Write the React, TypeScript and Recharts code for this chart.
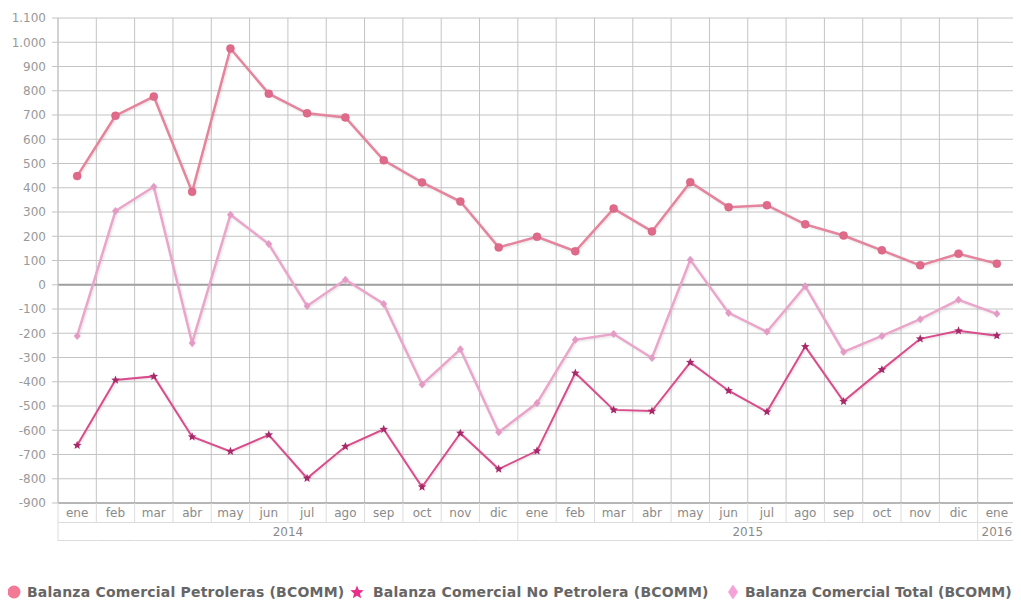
import { LineChart, Line, XAxis, YAxis, CartesianGrid, ReferenceLine } from 'recharts';

const months = ['ene', 'feb', 'mar', 'abr', 'may', 'jun', 'jul', 'ago', 'sep', 'oct', 'nov', 'dic', 'ene', 'feb', 'mar', 'abr', 'may', 'jun', 'jul', 'ago', 'sep', 'oct', 'nov', 'dic', 'ene'];
const years = ['2014', '2014', '2014', '2014', '2014', '2014', '2014', '2014', '2014', '2014', '2014', '2014', '2015', '2015', '2015', '2015', '2015', '2015', '2015', '2015', '2015', '2015', '2015', '2015', '2016'];
const petroleras = [448, 697, 776, 383, 974, 788, 707, 690, 513, 422, 343, 154, 198, 138, 314, 220, 423, 320, 328, 249, 203, 142, 80, 128, 87];
const noPetrolera = [-662, -393, -378, -627, -687, -619, -798, -667, -596, -834, -612, -760, -685, -364, -516, -521, -320, -437, -524, -255, -481, -350, -223, -190, -210];
const total = [-211, 304, 404, -240, 289, 168, -88, 21, -79, -411, -266, -608, -488, -227, -203, -302, 103, -116, -194, -6, -277, -211, -142, -62, -120];
const yTicks = [-900, -800, -700, -600, -500, -400, -300, -200, -100, 0, 100, 200, 300, 400, 500, 600, 700, 800, 900, 1000, 1100];

const seriesNames = ['Balanza Comercial Petroleras (BCOMM)', 'Balanza Comercial No Petrolera (BCOMM)', 'Balanza Comercial Total (BCOMM)'];

const rows = months.map((m, i) => ({
  key: `${years[i]}-${i}`,
  month: m,
  year: years[i],
  petroleras: petroleras[i],
  noPetrolera: noPetrolera[i],
  total: total[i],
}));

// chart is shifted left over the body margin so its coords match the page
const W = 1021;
const H = 600;
const MARGIN = { top: 18, right: 5, left: 8, bottom: 59 };
const Y_W = 50;
const STEP = (W - MARGIN.left - MARGIN.right - Y_W) / months.length;
const FONT = '"DejaVu Sans", Verdana, sans-serif';

const fmt = (v: number) => {
  const s = Math.abs(v).toString().replace(/\B(?=(\d{3})+(?!\d))/g, '.');
  return v < 0 ? '-' + s : s;
};

function starPath(cx: number, cy: number, r: number) {
  let d = '';
  for (let i = 0; i < 10; i++) {
    const rad = i % 2 === 0 ? r : r * 0.45;
    const a = -Math.PI / 2 + (i * Math.PI) / 5;
    d += `${i === 0 ? 'M' : 'L'}${cx + rad * Math.cos(a)},${cy + rad * Math.sin(a)}`;
  }
  return d + 'Z';
}

const CircleDot = (p: any) => <circle key={p.index} cx={p.cx} cy={p.cy} r={4} fill="#e06a8a" stroke="#d45c7e" strokeWidth={0.5} />;
const StarDot = (p: any) => <path key={p.index} d={starPath(p.cx, p.cy, 4.5)} fill="#a8296a" />;
const DiamondDot = (p: any) => (
  <path key={p.index} d={`M${p.cx},${p.cy - 4}L${p.cx + 3.5},${p.cy}L${p.cx},${p.cy + 4}L${p.cx - 3.5},${p.cy}Z`} fill="#e39bc5" />
);

function MonthTick(p: any) {
  const { x, y, index } = p;
  return (
    <g>
      <line x1={x - STEP / 2} x2={x - STEP / 2} y1={y} y2={y + 20} stroke="#dcdcdc" />
      {index === months.length - 1 && <line x1={x + STEP / 2} x2={x + STEP / 2} y1={y} y2={y + 20} stroke="#dcdcdc" />}
      <line x1={x - STEP / 2} x2={x + STEP / 2} y1={y + 19.5} y2={y + 19.5} stroke="#dcdcdc" />
      <text x={x} y={y + 14} textAnchor="middle" fontSize={12} fill="#8a8a8a" fontFamily={FONT}>
        {months[index]}
      </text>
    </g>
  );
}

function YearTick(p: any) {
  const { x, y, index } = p;
  const first = index === 0 || years[index - 1] !== years[index];
  const count = years.filter((yv) => yv === years[index]).length;
  const left = x - STEP / 2;
  return (
    <g>
      <line x1={left} x2={x + STEP / 2} y1={y + 17.5} y2={y + 17.5} stroke="#dcdcdc" />
      {first && <line x1={left} x2={left} y1={y} y2={y + 18} stroke="#dcdcdc" />}
      {index === years.length - 1 && <line x1={x + STEP / 2} x2={x + STEP / 2} y1={y} y2={y + 18} stroke="#dcdcdc" />}
      {first && (
        <text x={left + (count * STEP) / 2} y={y + 13} textAnchor="middle" fontSize={12} fill="#8a8a8a" fontFamily={FONT}>
          {years[index]}
        </text>
      )}
    </g>
  );
}

// legend drawn inside the svg, along the bottom edge
function SvgLegend() {
  const cy = 592;
  const items = [
    { name: seriesNames[0], x: 27, ls: 0.2, icon: <circle cx={14} cy={cy} r={6.5} fill="#f27a96" /> },
    { name: seriesNames[1], x: 373, ls: 0.2, icon: <path d={starPath(357, cy + 0.5, 7)} fill="#e8308a" /> },
    { name: seriesNames[2], x: 745, ls: 0, icon: <path d={`M733,${cy - 7.5}L738,${cy}L733,${cy + 7.5}L728,${cy}Z`} fill="#f5a3d6" /> },
  ];
  return (
    <g className="legend">
      {items.map((it) => (
        <g key={it.name}>
          {it.icon}
          <text x={it.x} y={cy + 5} fontSize={14} letterSpacing={it.ls} fontWeight="bold" fill="#666" fontFamily={FONT}>
            {it.name}
          </text>
        </g>
      ))}
    </g>
  );
}

export default function App() {
  return (
    <div style={{ marginLeft: -8, marginTop: -8 }}>
      <LineChart width={W} height={H} data={rows} margin={MARGIN}>
        <defs>
          <filter id="lineShadow" x="-5%" y="-5%" width="110%" height="110%">
            <feDropShadow dx="1" dy="1" stdDeviation="1" floodColor="#000" floodOpacity="0.12" />
          </filter>
        </defs>
        <CartesianGrid
          stroke="#c4c4c4"
          verticalCoordinatesGenerator={({ offset }: any) => Array.from({ length: months.length + 1 }, (_, i) => offset.left + (i * offset.width) / months.length)}
        />
        <XAxis dataKey="key" scale="band" interval={0} height={20} tickSize={0} tickMargin={0} axisLine={{ stroke: '#8c8c8c' }} tickLine={false} tick={<MonthTick />} />
        <XAxis xAxisId="year" dataKey="key" scale="band" interval={0} height={18} tickSize={0} tickMargin={0} axisLine={false} tickLine={false} tick={<YearTick />} />
        <YAxis
          width={Y_W}
          domain={[-900, 1100]}
          ticks={yTicks}
          interval={0}
          tickFormatter={fmt}
          tickSize={6}
          tickMargin={6}
          axisLine={{ stroke: '#c4c4c4' }}
          tickLine={{ stroke: '#c4c4c4' }}
          tick={{ fontSize: 12, fill: '#999', fontFamily: FONT }}
        />
        <ReferenceLine y={0} stroke="#a0a0a0" strokeWidth={2} />
        <Line dataKey="total" name={seriesNames[2]} stroke="#e9a6ca" strokeWidth={2.5} dot={DiamondDot} activeDot={false} filter="url(#lineShadow)" isAnimationActive={false} />
        <Line dataKey="noPetrolera" name={seriesNames[1]} stroke="#d84d8c" strokeWidth={2} dot={StarDot} activeDot={false} filter="url(#lineShadow)" isAnimationActive={false} />
        <Line dataKey="petroleras" name={seriesNames[0]} stroke="#e4849d" strokeWidth={2.5} dot={CircleDot} activeDot={false} filter="url(#lineShadow)" isAnimationActive={false} />
        <SvgLegend />
      </LineChart>
    </div>
  );
}
